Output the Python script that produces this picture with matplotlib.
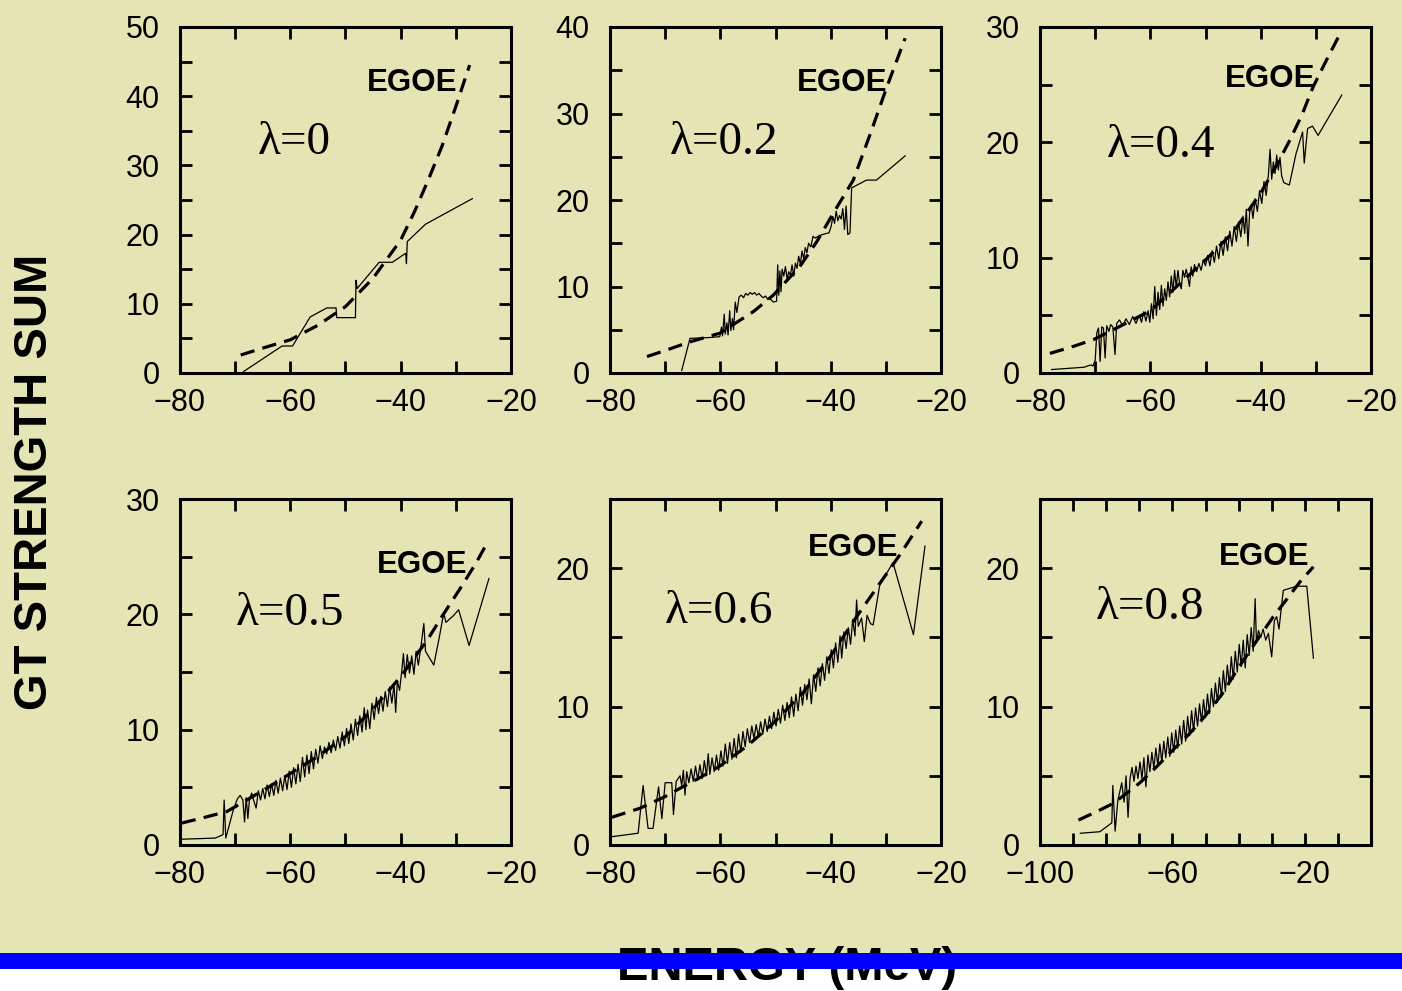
import matplotlib
matplotlib.use("Agg")
import matplotlib.pyplot as plt
from matplotlib.patches import Rectangle
from matplotlib.ticker import FixedLocator, FuncFormatter

plt.rcParams['font.family'] = ['Liberation Sans', 'DejaVu Sans']

BG = "#e5e4b4"

# ---------------- lambda = 0 ----------------
x_l00 = [-68.5, -61.5, -59.6, -56.4, -53.4, -51.7, -51.6, -48.2, -48.1, -47.9,
         -43.9, -41.5, -39.1, -38.95, -38.8, -35.5, -27.0]
y_l00 = [0.2, 3.9, 3.9, 8.1, 9.4, 9.4, 8.0, 8.0, 13.4, 12.2,
         16.0, 16.0, 17.3, 15.8, 19.0, 21.5, 25.2]
ex_l00 = [-69, -65, -60, -55, -50, -45, -40, -37.5, -35, -32.5, -30, -27.5]
ey_l00 = [2.6, 3.6, 4.8, 6.9, 9.6, 13.7, 19.2, 23.3, 27.9, 32.8, 38.5, 44.5]

# ---------------- lambda = 0.2 ----------------
x_l02 = [-67.0, -65.5, -62.0, -60.1, -59.8, -59.6, -59.3, -59.1, -58.8, -58.6,
         -58.3, -58.1, -57.8, -57.6, -57.3, -57.0, -56.6, -56.2, -55.8, -55.4,
         -55.0, -54.6, -54.2, -53.8, -53.4, -53.0, -52.6, -52.2, -51.8, -51.4,
         -51.0, -50.4, -49.8, -49.6, -49.4, -49.2, -49.0, -48.8, -48.5, -48.2,
         -47.9, -47.6, -47.3, -47.0, -46.7, -46.4, -46.1, -45.8, -45.5, -45.2,
         -44.9, -44.6, -44.3, -44.0, -43.6, -43.2, -42.8, -42.0, -41.0, -40.3,
         -39.9, -39.6, -39.3, -39.0, -38.7, -38.4, -38.1, -37.8, -37.5, -37.2,
         -36.9, -36.5, -36.2, -33.5, -31.7, -26.5]
y_l02 = [0.3, 4.0, 4.1, 4.2, 5.3, 4.3, 6.8, 4.5, 5.8, 4.4,
         7.2, 4.9, 6.3, 5.0, 8.2, 7.0, 8.8, 9.0, 8.7, 9.2,
         9.0, 9.3, 9.1, 9.3, 9.0, 9.2, 8.9, 8.7, 8.9, 8.5,
         8.6, 8.2, 8.3, 12.5, 9.0, 11.8, 9.4, 12.0, 11.2, 12.3,
         10.9, 11.7, 11.3, 12.5, 11.2, 12.7, 12.1, 13.5, 12.6, 14.1,
         13.2, 14.5, 13.9, 15.0, 14.6, 15.8, 15.6, 15.9, 16.1, 16.2,
         17.0, 18.1, 17.3, 18.7, 17.6, 18.2, 17.8, 19.0, 16.6, 19.3,
         16.0, 16.2, 21.4, 22.3, 22.3, 25.1]
ex_l02 = [-73.3, -70, -65.5, -60.1, -54, -50.4, -45.6, -42.5, -39.5, -35.9,
          -32.9, -29.8, -26.5]
ey_l02 = [1.9, 2.6, 3.6, 4.6, 7.1, 9.0, 12.3, 15.2, 18.5, 22.3,
          27.5, 33.1, 38.7]

# ---------------- lambda = 0.4 ----------------
x_l04 = [-77.9, -72.0, -70.8, -70.4, -70.0, -69.7, -69.4, -69.1, -68.8, -68.5,
         -68.2, -67.9, -67.5, -67.2, -66.8, -66.4, -66.1, -65.6, -65.0, -64.4,
         -63.8, -63.2, -62.6, -62.0, -61.6, -61.2, -60.8, -60.4, -60.1, -59.8,
         -59.5, -59.2, -58.9, -58.6, -58.3, -58.0, -57.7, -57.4, -57.1, -56.8,
         -56.5, -56.2, -55.9, -55.6, -55.3, -55.0, -54.7, -54.4, -54.1, -53.8,
         -53.5, -53.2, -52.9, -52.6, -52.3, -52.0, -51.6, -51.2, -50.8, -50.4,
         -50.0, -49.6, -49.2, -48.8, -48.4, -48.0, -47.6, -47.2, -46.8, -46.4,
         -46.0, -45.6, -45.2, -44.8, -44.4, -44.0, -43.6, -43.2, -42.9, -42.6,
         -42.3, -42.0, -41.7, -41.4, -41.0, -40.6, -40.2, -39.8, -39.4, -39.0,
         -38.6, -38.3, -38.0, -37.7, -37.4, -37.1, -36.8, -36.5, -36.2, -35.8,
         -34.8, -33.6, -32.4, -32.1, -31.5, -30.6, -29.6, -25.3]
y_l04 = [0.3, 0.5, 0.7, 0.6, 1.1, 3.5, 3.9, 1.0, 4.0, 3.9,
         1.3, 4.1, 3.6, 4.2, 4.0, 1.6, 4.3, 4.6, 4.1, 4.7,
         4.2, 4.9, 4.3, 5.0, 4.4, 5.3, 4.5, 5.4, 4.4, 6.0,
         4.7, 7.5, 5.0, 7.0, 5.5, 7.6, 5.8, 7.3, 6.3, 7.9,
         6.6, 8.4, 7.0, 8.9, 7.4, 8.9, 7.8, 7.3, 8.9, 8.3,
         9.0, 8.3, 7.5, 9.2, 8.4, 9.4, 8.8, 9.5, 8.9, 9.8,
         9.3, 10.2, 9.3, 10.6, 9.6, 11.0, 9.9, 11.4, 10.2, 11.8,
         10.6, 12.3, 11.0, 12.7, 11.4, 13.1, 11.8, 13.6, 12.1, 14.2,
         11.0, 13.9, 14.6, 13.4, 15.1, 14.0, 15.8, 14.7, 16.6, 15.4,
         17.2, 19.4, 16.8, 18.3, 17.3, 18.9, 17.6, 18.7, 17.1, 16.5,
         16.3, 19.0, 20.9, 18.2, 21.2, 21.4, 20.6, 24.1]
ex_l04 = [-78.2, -74, -70.3, -66.1, -60, -55, -50, -45, -40, -37,
          -34.7, -32.5, -30.5, -28, -25.3]
ey_l04 = [1.7, 2.3, 2.9, 3.9, 5.4, 7.6, 9.8, 12.2, 15.6, 18.1,
          20.2, 22.4, 24.8, 27.2, 29.7]

# ---------------- lambda = 0.5 ----------------
x_l05 = [-79.7, -73.6, -72.2, -72.0, -71.7, -70.3, -69.6, -69.1, -68.6, -68.3,
         -68.0, -67.7, -67.4, -67.0, -66.6, -66.2, -65.8, -65.4, -65.0, -64.6,
         -64.2, -63.8, -63.4, -63.0, -62.6, -62.2, -61.8, -61.4, -61.0, -60.6,
         -60.2, -59.8, -59.4, -59.0, -58.6, -58.2, -57.8, -57.4, -57.0, -56.6,
         -56.2, -55.8, -55.4, -55.0, -54.6, -54.2, -53.8, -53.4, -53.0, -52.6,
         -52.2, -51.8, -51.4, -51.0, -50.6, -50.2, -49.8, -49.4, -49.0, -48.6,
         -48.2, -47.8, -47.4, -47.0, -46.6, -46.3, -46.0, -45.6, -45.2, -44.8,
         -44.4, -44.0, -43.6, -43.2, -42.8, -42.4, -42.0, -41.6, -41.2, -40.9,
         -40.6, -40.2, -39.8, -39.5, -39.2, -38.8, -38.4, -38.0, -37.6, -37.2,
         -36.8, -36.3, -35.8, -35.5, -35.0, -34.0, -33.0, -32.2, -31.8, -30.4,
         -29.5, -27.6, -24.0]
y_l05 = [0.5, 0.6, 0.9, 3.9, 0.6, 3.1, 4.0, 4.3, 3.9, 2.0,
         4.1, 2.3, 4.0, 4.5, 3.8, 3.2, 4.7, 3.9, 4.9, 4.0,
         5.2, 4.2, 5.3, 4.3, 5.6, 4.5, 5.8, 4.7, 6.0, 4.8,
         6.4, 5.0, 6.7, 5.3, 7.0, 5.5, 7.6, 5.9, 7.8, 6.2,
         8.1, 6.6, 8.3, 7.1, 8.6, 7.5, 8.5, 7.9, 8.9, 8.0,
         9.1, 8.2, 9.4, 8.4, 9.8, 8.6, 10.1, 8.8, 10.5, 9.1,
         10.9, 9.5, 11.2, 9.8, 11.9, 10.0, 11.7, 10.1, 12.3, 10.9,
         12.8, 11.4, 12.9, 11.6, 13.3, 12.0, 13.7, 12.3, 13.9, 11.5,
         14.2, 13.4, 15.1, 16.6, 14.5, 16.5, 14.9, 16.4, 14.8, 16.8,
         15.6, 17.3, 19.2, 16.8, 16.4, 15.6, 18.0, 20.1, 19.3, 19.9,
         20.4, 17.3, 23.1]
ex_l05 = [-79.7, -75.5, -71.5, -67.9, -64, -60, -55, -50, -45, -40,
          -35, -32.4, -29.4, -26.4, -24.2]
ey_l05 = [1.9, 2.4, 2.9, 3.9, 5.0, 6.2, 7.7, 9.4, 11.8, 14.6,
          17.9, 19.9, 22.1, 24.4, 26.3]

# ---------------- lambda = 0.6 ----------------
x_l06 = [-79.7, -74.9, -74.0, -73.1, -72.2, -71.2, -70.6, -70.0, -68.8, -68.5,
         -68.0, -67.3, -67.0, -66.7, -66.4, -66.1, -65.7, -65.3, -64.9, -64.5,
         -64.1, -63.7, -63.3, -62.9, -62.5, -62.2, -61.9, -61.5, -61.1, -60.7,
         -60.3, -59.9, -59.5, -59.1, -58.7, -58.3, -57.9, -57.5, -57.1, -56.7,
         -56.3, -55.9, -55.5, -55.1, -54.7, -54.3, -53.9, -53.5, -53.1, -52.7,
         -52.3, -51.9, -51.5, -51.1, -50.7, -50.3, -49.9, -49.5, -49.1, -48.7,
         -48.3, -47.9, -47.5, -47.1, -46.7, -46.3, -45.9, -45.5, -45.1, -44.7,
         -44.3, -43.9, -43.5, -43.1, -42.7, -42.3, -41.9, -41.5, -41.1, -40.7,
         -40.3, -39.9, -39.5, -39.1, -38.7, -38.3, -38.0, -37.6, -37.2, -36.8,
         -36.4, -36.0, -35.6, -35.3, -35.0, -34.4, -33.9, -33.4, -32.8, -32.3,
         -31.1, -28.7, -25.0, -22.9]
y_l06 = [0.6, 0.85, 4.3, 1.2, 1.2, 4.2, 1.9, 4.5, 4.5, 2.2,
         4.6, 5.0, 4.3, 5.4, 3.6, 5.3, 4.5, 5.5, 4.6, 5.7,
         4.7, 5.8, 4.8, 6.1, 5.0, 6.6, 5.1, 6.3, 5.3, 6.5,
         5.4, 6.8, 5.7, 7.3, 5.9, 7.4, 6.2, 7.7, 6.3, 8.0,
         6.7, 8.2, 7.1, 8.4, 7.4, 8.6, 7.7, 8.7, 7.8, 8.9,
         8.0, 9.1, 8.2, 9.3, 8.4, 9.6, 8.6, 9.8, 8.8, 10.1,
         9.0, 10.3, 9.2, 10.7, 9.3, 10.9, 9.7, 11.4, 10.1, 11.6,
         10.5, 12.0, 10.2, 12.3, 11.1, 12.8, 11.5, 13.1, 11.9, 13.6,
         12.4, 14.1, 12.8, 14.6, 13.2, 15.1, 13.5, 15.4, 14.2, 15.7,
         14.5, 16.3, 15.1, 17.7, 15.8, 16.4, 14.7, 16.6, 16.0, 15.9,
         18.8, 20.4, 15.2, 21.6]
ex_l06 = [-79.7, -74.6, -70, -67.3, -64, -60.1, -55, -50.4, -45, -40.1,
          -35.3, -31.1, -27.4, -23.5]
ey_l06 = [2.0, 2.65, 3.5, 4.1, 4.8, 5.7, 7.2, 8.8, 11.0, 13.6,
          16.5, 18.9, 21.0, 23.4]

# ---------------- lambda = 0.8 ----------------
x_l08 = [-87.8, -81.9, -78.3, -78.0, -77.3, -76.5, -75.3, -74.6, -74.0, -73.4,
         -72.8, -72.2, -71.6, -71.0, -70.4, -69.8, -69.2, -68.6, -68.0, -67.4,
         -66.8, -66.2, -65.6, -65.0, -64.4, -63.8, -63.2, -62.6, -62.0, -61.4,
         -60.8, -60.2, -59.6, -59.0, -58.4, -57.8, -57.2, -56.6, -56.0, -55.4,
         -54.8, -54.2, -53.6, -53.0, -52.4, -51.8, -51.2, -50.6, -50.0, -49.4,
         -48.8, -48.2, -47.6, -47.0, -46.4, -45.8, -45.2, -44.6, -44.0, -43.4,
         -42.8, -42.2, -41.6, -41.0, -40.4, -39.8, -39.2, -38.6, -38.0, -37.4,
         -36.8, -36.2, -35.6, -35.0, -34.6, -34.0, -33.3, -32.6, -31.8, -31.0,
         -30.0, -29.2, -28.5, -27.8, -26.5, -22.4, -19.4, -17.4]
y_l08 = [0.85, 0.96, 1.6, 4.3, 1.0, 3.2, 4.5, 3.1, 5.0, 2.0,
         4.8, 5.6, 4.6, 5.7, 4.8, 6.0, 4.8, 6.3, 4.2, 6.5,
         5.3, 6.7, 5.5, 7.0, 5.7, 7.3, 6.0, 7.5, 6.3, 7.8,
         6.4, 8.1, 6.7, 8.3, 7.0, 8.6, 7.3, 9.0, 7.5, 9.3,
         7.9, 9.7, 8.2, 9.9, 8.6, 10.2, 8.9, 10.5, 9.2, 10.9,
         9.5, 11.3, 10.0, 11.7, 10.3, 12.1, 10.7, 12.6, 11.1, 13.0,
         11.6, 13.6, 12.0, 14.0, 12.5, 14.5, 12.9, 14.8, 12.8, 15.2,
         13.7, 15.7, 14.0, 17.8, 14.6, 15.5, 15.0, 15.6, 14.8, 15.3,
         13.6, 16.2, 16.5, 15.6, 18.4, 18.7, 18.7, 13.5]
ex_l08 = [-88.4, -83, -77.9, -73.5, -69.8, -65, -59.7, -55, -50.2, -45,
          -40.6, -35, -29.5, -25, -21.5, -17.4]
ey_l08 = [1.8, 2.4, 3.0, 3.8, 4.5, 5.6, 6.9, 8.0, 9.3, 10.9,
          12.6, 14.6, 16.5, 17.9, 19.0, 20.1]

lambda_labels = ["\u03bb=0", "\u03bb=0.2", "\u03bb=0.4", "\u03bb=0.5", "\u03bb=0.6", "\u03bb=0.8"]

W, H = 1402, 991
fig = plt.figure(figsize=(W / 100, H / 100), dpi=100)
fig.patch.set_facecolor(BG)

# panel layout: (left px, bottom px), axis limits, tick sets
panels = [
    dict(pos=(180, 373), data=(x_l00, y_l00, ex_l00, ey_l00), xlim=(-80, -20), ylim=(0, 50),
         xt=range(-80, -19, 10), xl=(-80, -60, -40, -20), yt=range(0, 51, 5), yl=range(0, 51, 10),
         egoe=(0.70, 0.838), lam=(0.236, 0.665)),
    dict(pos=(610, 373), data=(x_l02, y_l02, ex_l02, ey_l02), xlim=(-80, -20), ylim=(0, 40),
         xt=range(-80, -19, 10), xl=(-80, -60, -40, -20), yt=range(0, 41, 5), yl=range(0, 41, 10),
         egoe=(0.701, 0.838), lam=(0.181, 0.665)),
    dict(pos=(1040, 373), data=(x_l04, y_l04, ex_l04, ey_l04), xlim=(-80, -20), ylim=(0, 30),
         xt=range(-80, -19, 10), xl=(-80, -60, -40, -20), yt=range(0, 31, 5), yl=range(0, 31, 10),
         egoe=(0.695, 0.85), lam=(0.202, 0.656)),
    dict(pos=(180, 845), data=(x_l05, y_l05, ex_l05, ey_l05), xlim=(-80, -20), ylim=(0, 30),
         xt=range(-80, -19, 10), xl=(-80, -60, -40, -20), yt=range(0, 31, 5), yl=range(0, 31, 10),
         egoe=(0.731, 0.809), lam=(0.169, 0.668)),
    dict(pos=(610, 845), data=(x_l06, y_l06, ex_l06, ey_l06), xlim=(-80, -20), ylim=(0, 25),
         xt=range(-80, -19, 10), xl=(-80, -60, -40, -20), yt=range(0, 26, 5), yl=range(0, 26, 10),
         egoe=(0.734, 0.858), lam=(0.166, 0.673)),
    dict(pos=(1040, 845), data=(x_l08, y_l08, ex_l08, ey_l08), xlim=(-100, 0), ylim=(0, 25),
         xt=range(-100, 1, 10), xl=(-100, -60, -20), yt=range(0, 26, 5), yl=range(0, 26, 10),
         egoe=(0.677, 0.832), lam=(0.169, 0.685)),
]

AW, AH = 331, 346


def make_fmt(shown):
    shown = set(shown)

    def fmt(v, _pos):
        iv = int(round(v))
        return f"{iv}".replace("-", "\u2212") if iv in shown else ""
    return FuncFormatter(fmt)


for p, lab in zip(panels, lambda_labels):
    lpx, bpx = p["pos"]
    ax = fig.add_axes([lpx / W, 1 - bpx / H, AW / W, AH / H])
    ax.set_facecolor(BG)
    x, y, ex, ey = p["data"]
    ax.plot(x, y, color="black", lw=0.9, zorder=3)
    ax.plot(ex, ey, color="black", lw=2.3, linestyle=(0, (4.5, 2.6)), zorder=4)
    ax.set_xlim(*p["xlim"])
    ax.set_ylim(*p["ylim"])
    ax.xaxis.set_major_locator(FixedLocator(list(p["xt"])))
    ax.yaxis.set_major_locator(FixedLocator(list(p["yt"])))
    ax.xaxis.set_major_formatter(make_fmt(p["xl"]))
    ax.yaxis.set_major_formatter(make_fmt(p["yl"]))
    ax.tick_params(direction="in", length=8.5, width=2.0, top=True, right=True,
                   labelsize=22, colors="black")
    ax.tick_params(axis="x", pad=10.5)
    ax.tick_params(axis="y", pad=14.5)
    for s in ax.spines.values():
        s.set_linewidth(2.2)
    ax.text(*p["egoe"], "EGOE", transform=ax.transAxes, ha="center", va="center",
            fontsize=22.5, fontweight="bold")
    ax.text(*p["lam"], lab, transform=ax.transAxes, ha="left", va="center",
            fontsize=34, family=["Liberation Serif", "DejaVu Serif"])

fig.text(35 / W, 1 - 482 / H, "GT STRENGTH SUM", rotation=90, ha="center", va="center",
         fontsize=34, fontweight="bold")

# white strip along the foot of the page, then the axis title and the blue band
fig.patches.append(Rectangle((0, 0), 1, 1 - 969 / H, transform=fig.transFigure,
                             facecolor="white", edgecolor="none", zorder=0))
fig.text(787 / W, 1 - 980 / H, "ENERGY (MeV)", ha="center", va="baseline",
         fontsize=34, fontweight="bold", zorder=5)
fig.patches.append(Rectangle((0, 1 - 969 / H), 1, 16 / H, transform=fig.transFigure,
                             facecolor="#0000ff", edgecolor="none", zorder=10))

fig.savefig("out.png", dpi=100, facecolor=fig.get_facecolor())
